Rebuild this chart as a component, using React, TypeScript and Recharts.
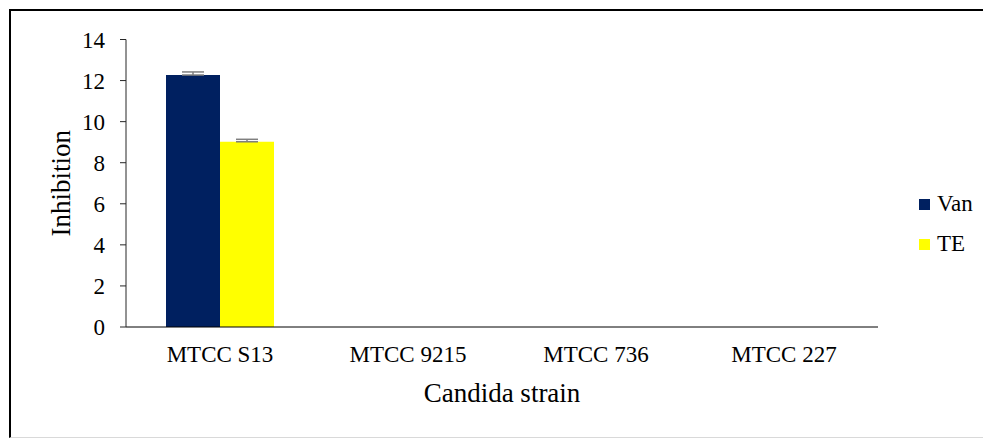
import { BarChart, Bar, XAxis, YAxis, ErrorBar } from 'recharts';

const strains = ['MTCC S13', 'MTCC 9215', 'MTCC 736', 'MTCC 227'];
const vanValues = [12.27, 0, 0, 0];
const vanErrors = [0.15, 0, 0, 0];
const teValues = [9.02, 0, 0, 0];
const teErrors = [0.12, 0, 0, 0];
const yTicks = [0, 2, 4, 6, 8, 10, 12, 14];

const series = [
  { key: 'van', err: 'vanErr', name: 'Van', color: '#002060' },
  { key: 'te', err: 'teErr', name: 'TE', color: '#FFFF00' },
];

// plus-only error bars, as in the original (the minus side sits behind the bar)
const data = strains.map((strain, i) => ({
  strain,
  van: vanValues[i],
  vanErr: [0, vanErrors[i]],
  te: teValues[i],
  teErr: [0, teErrors[i]],
}));

const font = '"Liberation Serif", "Times New Roman", serif';

export default function App() {
  return (
    <div style={{ position: 'relative', width: 983, height: 431, overflow: 'hidden', fontFamily: font }}>
      <style>{`.recharts-wrapper text, .recharts-text { font-family: ${font}; }`}</style>
      <div
        style={{
          position: 'absolute',
          left: 1,
          top: 1,
          width: 1000,
          height: 426,
          borderTop: '2px solid #000',
          borderLeft: '2px solid #000',
          borderBottom: '1px solid #d9d9d9',
        }}
      />
      <BarChart
        width={983}
        height={431}
        data={data}
        margin={{ top: 31.5, right: 113, bottom: 32, left: 0 }}
        barCategoryGap={40}
        barGap={0}
        style={{ position: 'absolute', left: 0, top: 0, fontFamily: font }}
      >
        <XAxis
          dataKey="strain"
          height={80}
          tickLine={false}
          tickSize={0}
          tickMargin={19}
          stroke="#000"
          tick={{ fill: '#000', fontSize: 23, fontFamily: font }}
          label={({ viewBox }: any) => (
            <text
              x={viewBox.x + viewBox.width / 2}
              y={viewBox.y + 75}
              textAnchor="middle"
              fontSize={27}
              fontFamily={font}
              fill="#000"
            >
              Candida strain
            </text>
          )}
        />
        <YAxis
          width={118}
          domain={[0, 14]}
          ticks={yTicks}
          interval={0}
          tickSize={6}
          tickMargin={15}
          stroke="#262626"
          tick={{ fill: '#000', fontSize: 23, fontFamily: font }}
          label={({ viewBox }: any) => (
            <text
              x={53}
              y={viewBox.y + viewBox.height / 2}
              textAnchor="middle"
              dominantBaseline="central"
              transform={`rotate(-90, 53, ${viewBox.y + viewBox.height / 2})`}
              fontSize={27}
              fontFamily={font}
              fill="#000"
            >
              Inhibition
            </text>
          )}
        />
        {series.map((s) => (
          <Bar key={s.key} dataKey={s.key} name={s.name} fill={s.color} isAnimationActive={false}>
            <ErrorBar dataKey={s.err} width={11} stroke="#7f7f7f" strokeWidth={1.5} direction="y" />
          </Bar>
        ))}
      </BarChart>
      <div style={{ position: 'absolute', left: 911, top: 176 }}>
        {series.map((s) => (
          <div key={s.key} style={{ display: 'flex', alignItems: 'center', height: 40, fontSize: 23 }}>
            <span style={{ width: 11, height: 11, background: s.color, marginRight: 7, display: 'inline-block' }} />
            <span>{s.name}</span>
          </div>
        ))}
      </div>
    </div>
  );
}
